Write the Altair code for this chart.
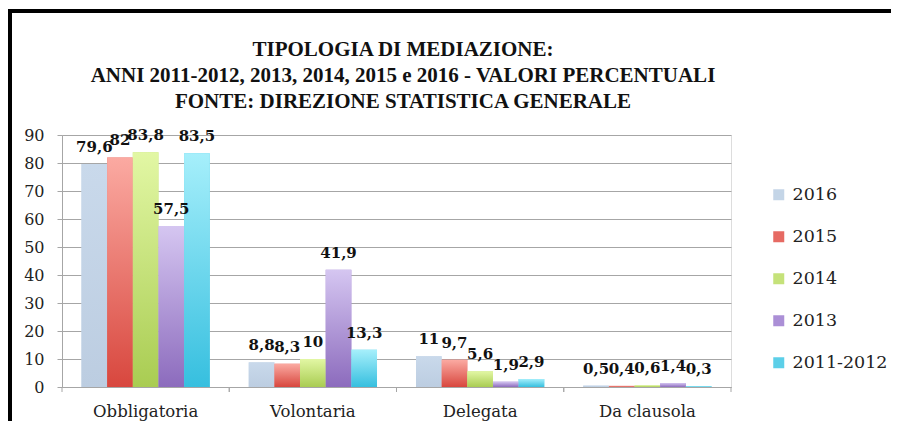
import altair as alt
import pandas as pd

categories = ["Obbligatoria", "Volontaria", "Delegata", "Da clausola"]
series = ["2016", "2015", "2014", "2013", "2011-2012"]
values = {
    "2016": [79.6, 8.8, 11, 0.5],
    "2015": [82, 8.3, 9.7, 0.4],
    "2014": [83.8, 10, 5.6, 0.6],
    "2013": [57.5, 41.9, 1.9, 1.4],
    "2011-2012": [83.5, 13.3, 2.9, 0.3],
}
legend_colors = ["#c4d5e7", "#e66a63", "#c5e27a", "#ab8fd6", "#5ccfe8"]
gradient_stops = {
    "2016": ("#c9d9eb", "#bccde1"),
    "2015": ("#fbaaa2", "#d8473e"),
    "2014": ("#e2f7a4", "#a9cc52"),
    "2013": ("#d5c6f1", "#8c6bbd"),
    "2011-2012": ("#a6effb", "#36bfdf"),
}
title_lines = [
    "TIPOLOGIA DI MEDIAZIONE:",
    "ANNI 2011-2012, 2013, 2014, 2015 e 2016 - VALORI PERCENTUALI",
    "FONTE: DIREZIONE STATISTICA GENERALE",
]

rows = []
for s in series:
    for c, v in zip(categories, values[s]):
        rows.append({"cat": c, "serie": s, "val": v,
                     "lab": f"{v:g}".replace(".", ",")})
df = pd.DataFrame(rows)
cat_df = pd.DataFrame({"cat": categories})
one = pd.DataFrame({"a": [0]})

W, H = 669, 252
GRAY = "#a6a6a6"

x_enc = alt.X("cat:N", sort=categories,
              scale=alt.Scale(paddingInner=0, paddingOuter=0),
              axis=alt.Axis(title=None, ticks=False, labelFont="DejaVu Serif",
                            labelFontSize=16.5, labelColor="#222",
                            labelPadding=16, labelAngle=0, domainColor=GRAY,
                            labelBaseline="top"))
xo_enc = alt.XOffset("serie:N", sort=series,
                     scale=alt.Scale(domain=series, paddingInner=0, paddingOuter=0.76))
y_enc = alt.Y("val:Q",
              scale=alt.Scale(domain=[0, 90], nice=False),
              axis=alt.Axis(title=None, values=list(range(0, 100, 10)),
                            grid=True, gridColor=GRAY, domainColor=GRAY,
                            tickColor=GRAY, tickSize=5, labelFont="DejaVu Serif",
                            labelFontSize=16, labelColor="#222", labelPadding=13))

base = alt.Chart(df)

legend_bars = base.mark_bar().encode(
    x=x_enc, xOffset=xo_enc, y=y_enc,
    color=alt.Color("serie:N", sort=series,
                    scale=alt.Scale(domain=series, range=legend_colors),
                    legend=alt.Legend(title=None, orient="none", legendX=708, legendY=51,
                                      symbolType="square", symbolSize=121,
                                      symbolStrokeWidth=0, labelFont="DejaVu Serif",
                                      labelFontSize=17.5, labelColor="#222",
                                      labelOffset=5, rowPadding=23)),
)

layers = [legend_bars]
for s in series:
    top, bottom = gradient_stops[s]
    grad = alt.Gradient(gradient="linear", x1=0, y1=0, x2=0, y2=1,
                        stops=[alt.GradientStop(offset=0, color=top),
                               alt.GradientStop(offset=1, color=bottom)])
    layers.append(
        base.transform_filter(alt.datum.serie == s)
        .mark_bar(color=grad)
        .encode(x=x_enc, xOffset=xo_enc, y=y_enc)
    )

labels = base.mark_text(font="DejaVu Serif", fontWeight="bold", fontSize=15,
                        baseline="alphabetic", dy=-12, color="#111").encode(
    x=x_enc, xOffset=xo_enc, y=y_enc, text="lab:N")
layers.append(labels)

for bp in (0, 1):
    layers.append(
        alt.Chart(cat_df).mark_rule(color=GRAY, strokeWidth=1).encode(
            x=alt.X("cat:N", sort=categories, bandPosition=bp),
            y=alt.value(H), y2=alt.value(H + 5))
    )

# outer frame of the original picture
layers.append(alt.Chart(one).mark_rule(color="black", strokeWidth=4).encode(
    x=alt.value(-52), y=alt.value(-126), y2=alt.value(H + 40)))
layers.append(alt.Chart(one).mark_rule(color="black", strokeWidth=4).encode(
    x=alt.value(-54), x2=alt.value(W + 170), y=alt.value(-124)))

chart = alt.layer(*layers).properties(
    width=W, height=H,
    title=alt.TitleParams(text=title_lines, font="Liberation Serif", fontSize=21,
                          fontWeight="bold", color="#111", lineHeight=26,
                          anchor="middle", dx=6.5, offset=-105, frame="group"),
    autosize=alt.AutoSizeParams(type="none"),
    padding={"left": 54, "top": 127, "right": 160, "bottom": 34},
).configure_view(stroke=None).configure(background="white")

chart.save("out.html", embed_options={"renderer": "svg", "actions": False})
